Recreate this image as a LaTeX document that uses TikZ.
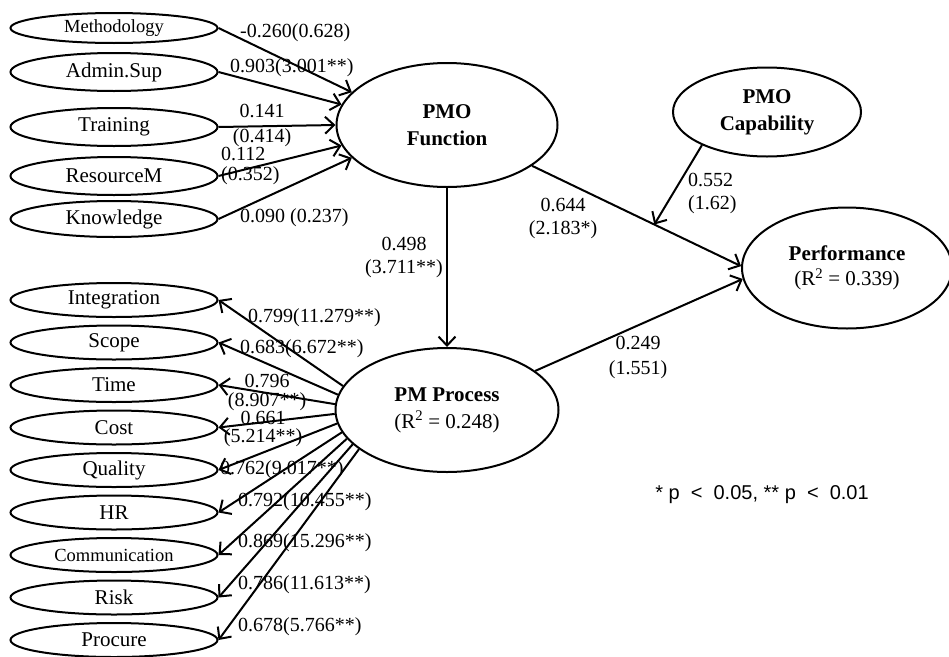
\documentclass[tikz,border=0pt]{standalone}
\usepackage{fontspec}
\setmainfont{Liberation Serif}
\newfontfamily\legendfont{Liberation Sans}
\usetikzlibrary{shapes.geometric,arrows.meta}
\begin{document}
\begin{tikzpicture}[x=1pt,y=-1pt,
  ind/.style={ellipse,draw,line width=2pt,minimum width=207pt,minimum height=34pt,inner sep=0pt,font=\fontsize{21}{24}\selectfont},
  lat/.style={ellipse,draw,line width=2pt,inner sep=0pt,align=center,font=\fontsize{21}{27}\selectfont\bfseries},
  arr/.style={line width=2pt,-{Straight Barb[length=9pt,width=17pt]}},
  lab/.style={inner sep=0pt,font=\fontsize{20}{23}\selectfont,align=center},
  labw/.style={lab,anchor=west,align=left},
]
\useasboundingbox (0,0) rectangle (949,656);

% indicators of PMO Function
\node[ind,minimum height=30pt,font=\fontsize{18.5}{22}\selectfont] (meth) at (114,28) {Methodology};
\node[ind,minimum height=38pt] (admin) at (114,72) {Admin.Sup};
\node[ind,minimum height=38pt] (train) at (114,127) {Training};
\node[ind,minimum height=38pt] (res) at (114,176) {ResourceM};
\node[ind,minimum height=36pt] (know) at (114,219) {Knowledge};

% indicators of PM Process
\node[ind] (integ) at (114,300) {Integration};
\node[ind] (scope) at (114,342.5) {Scope};
\node[ind] (time) at (114,385) {Time};
\node[ind] (cost) at (114,427.5) {Cost};
\node[ind] (qual) at (114,470) {Quality};
\node[ind] (hr) at (114,512.5) {HR};
\node[ind,font=\fontsize{18.5}{22}\selectfont] (comm) at (114,555) {Communication};
\node[ind] (risk) at (114,597.5) {Risk};
\node[ind] (proc) at (114,640) {Procure};

% latent variables
\node[lat,minimum width=221pt,minimum height=124pt] (pmof) at (447,125) {PMO\\Function};
\node[lat,minimum width=223pt,minimum height=124pt] (pmp) at (447,410) {PM Process\\{\mdseries (R\textsuperscript{2} = 0.248)}};
\node[lat,minimum width=188pt,minimum height=89pt] (cap) at (767,112) {PMO\\Capability};
\node[lat,minimum width=210pt,minimum height=121pt] (perf) at (847,268) {Performance\\[-2pt]{\mdseries (R\textsuperscript{2} = 0.339)}};

% arrows into PMO Function
\draw[arr] (meth.east) -- (pmof.161);
\draw[arr] (admin.east) -- (pmof.169);
\draw[arr] (train.east) -- (pmof.180);
\draw[arr] (res.east) -- (pmof.191);
\draw[arr] (know.east) -- (pmof.199);

% structural paths
\draw[arr] (pmof) -- coordinate[pos=0.585] (mod) (perf.179);
\draw[arr] (cap.207) -- (mod);
\draw[arr] (pmp) -- (perf.186);
\draw[arr] (pmof.south) -- (pmp.north);

% arrows out of PM Process
\draw[arr] (pmp.167) -- (integ.east);
\draw[arr] (pmp.172) -- (scope.east);
\draw[arr] (pmp.177) -- (time.east);
\draw[arr] (pmp.182) -- (cost.east);
\draw[arr] (pmp.187) -- (qual.east);
\draw[arr] (pmp.192) -- (hr.east);
\draw[arr] (pmp.196) -- (comm.east);
\draw[arr] (pmp.200) -- (risk.east);
\draw[arr] (pmp.204) -- (proc.east);

% labels, top group
\node[labw] (l1) at (240,33) {-0.260(0.628)};
\node[labw] (l2) at (230,68) {0.903(3.001**)};
\node[lab,font=\fontsize{20}{25}\selectfont] (l3) at (262,125) {0.141\\(0.414)};
\node[labw,font=\fontsize{20}{20}\selectfont] (l4) at (221,166) {0.112\\(0.352)};
\node[labw] (l5) at (240,218) {0.090 (0.237)};

% labels, structural
\node[lab] (l6) at (563,218) {0.644\\(2.183*)};
\node[lab] (l7) at (404,257) {0.498\\(3.711**)};
\node[labw] (l8) at (688,193) {0.552\\(1.62)};
\node[lab,font=\fontsize{20}{25}\selectfont] (l9) at (638,357) {0.249\\(1.551)};

% labels, bottom group
\node[labw] (m1) at (248,318) {0.799(11.279**)};
\node[labw] (m2) at (240,349) {0.683(6.672**)};
\node[lab,font=\fontsize{20}{19}\selectfont] (m3) at (267,392) {0.796\\(8.907**)};
\node[lab,font=\fontsize{20}{18}\selectfont] (m4) at (263,429) {0.661\\(5.214**)};
\node[labw] (m5) at (220,470) {0.762(9.017**)};
\node[labw] (m6) at (238,502) {0.792(10.455**)};
\node[labw] (m7) at (238,543) {0.869(15.296**)};
\node[labw] (m8) at (238,585) {0.786(11.613**)};
\node[labw] (m9) at (238,627) {0.678(5.766**)};

% legend
\node[inner sep=0pt,font=\legendfont\fontsize{20}{24}\selectfont] (leg) at (762,495) {* p~ <~ 0.05, ** p ~<~ 0.01};
\end{tikzpicture}
\end{document}
